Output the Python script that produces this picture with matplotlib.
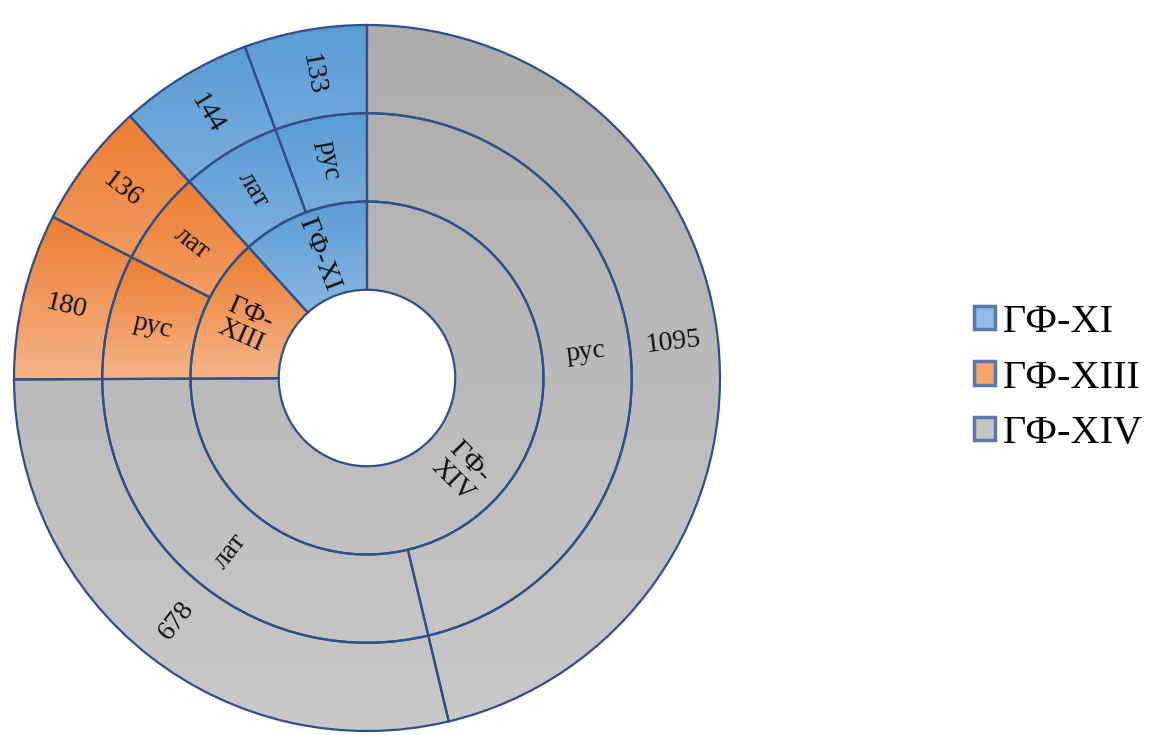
import numpy as np
import matplotlib
matplotlib.use("Agg")
import matplotlib.pyplot as plt
from matplotlib.colors import LinearSegmentedColormap
from matplotlib.patches import Patch

plt.rcParams['font.family'] = ['Liberation Serif', 'DejaVu Serif']

# groups in drawing order (clockwise from the top)
groups = ['ГФ-XIV', 'ГФ-XIII', 'ГФ-XI']
group_text = ['ГФ-\nXIV', 'ГФ-\nXIII', 'ГФ-XI']
sub_labels = [['рус', 'лат'], ['рус', 'лат'], ['лат', 'рус']]
sub_values = [[1095, 678], [180, 136], [144, 133]]
legend_order = ['ГФ-XI', 'ГФ-XIII', 'ГФ-XIV']

# (top, bottom) gradient colours for each group
grad = {
    'ГФ-XI': ('#5b9bd5', '#a6c9ea'),
    'ГФ-XIII': ('#ed7d31', '#f5b48a'),
    'ГФ-XIV': ('#acacac', '#c9c9c9'),
}
# grey runs one gradient over the whole chart, the others one per wedge
whole_chart = {'ГФ-XIV'}
legend_fill = {'ГФ-XI': '#8fbbe4', 'ГФ-XIII': '#f4a46c', 'ГФ-XIV': '#c4c4c4'}
edge = '#2f4f88'

fig = plt.figure(figsize=(11.52, 7.35), dpi=100)
W, H = 1152, 735
cx, cy, R = 367, 378, 353
half = 362
ax = fig.add_axes([(cx - half) / W, (H - cy - half) / H, 2 * half / W, 2 * half / H])

inner_vals = [sum(v) for v in sub_values]
mid_vals = [x for v in sub_values for x in v]
mid_groups = [g for g, v in zip(groups, sub_values) for _ in v]
mid_labels = [s for v in sub_labels for s in v]

rings = [
    (0.5, inner_vals, groups, group_text),
    (0.75, mid_vals, mid_groups, mid_labels),
    (1.0, mid_vals, mid_groups, [str(x) for x in mid_vals]),
]

for radius, vals, grp, texts in rings:
    wedges, _ = ax.pie(vals, radius=radius, startangle=90, counterclock=False,
                       colors=[grad[g][1] for g in grp],
                       wedgeprops=dict(width=0.25, edgecolor=edge, linewidth=1.6))
    for w, g, t in zip(wedges, grp, texts):
        if g in whole_chart:
            x0, y0, x1, y1 = -1, -1, 1, 1
        else:
            verts = w.get_path().vertices
            x0, y0 = verts.min(axis=0)
            x1, y1 = verts.max(axis=0)
        cmap = LinearSegmentedColormap.from_list('g', [grad[g][1], grad[g][0]])
        img = ax.imshow(np.linspace(0, 1, 256).reshape(-1, 1), cmap=cmap,
                        extent=(x0, x1, y0, y1), origin='lower', aspect='auto',
                        zorder=1, interpolation='bilinear')
        img.set_clip_path(w)
        w.set_facecolor('none')
        w.set_zorder(3)

        # label in the middle of the wedge, rotated along the radius
        theta = (w.theta1 + w.theta2) / 2
        rm = radius - 0.125
        xt = rm * np.cos(np.radians(theta))
        yt = rm * np.sin(np.radians(theta))
        rot = theta if np.cos(np.radians(theta)) >= 0 else theta - 180
        ax.text(xt, yt, t, ha='center', va='center', rotation=rot,
                rotation_mode='anchor', fontsize=20, linespacing=1.0,
                color='#111111', zorder=4)

lim = half / R
ax.set_xlim(-lim, lim)
ax.set_ylim(-lim, lim)
ax.set_aspect('equal')
ax.axis('off')

handles = [Patch(facecolor=legend_fill[g], edgecolor='#5a78aa', linewidth=2.5)
           for g in legend_order]
fig.legend(handles, legend_order, loc='center left',
           bbox_to_anchor=(958 / W, (H - 378) / H), frameon=False,
           fontsize=29, handlelength=0.52, handleheight=0.52,
           handletextpad=0.2, labelspacing=0.46, borderaxespad=0)

fig.savefig('out.png', dpi=100)
